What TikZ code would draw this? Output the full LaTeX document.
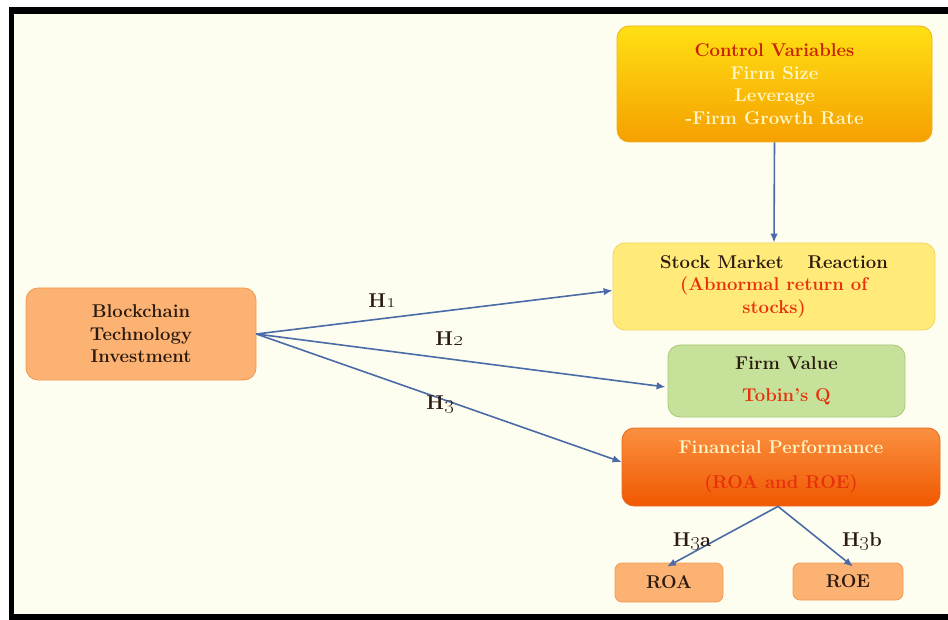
\documentclass[tikz,border=0pt]{standalone}
\usetikzlibrary{arrows.meta}
\definecolor{cream}{HTML}{FEFEF0}
\definecolor{arrowblue}{HTML}{4A6BA8}
\definecolor{cvtop}{HTML}{FFE014}
\definecolor{cvbot}{HTML}{F5A000}
\definecolor{cvdraw}{HTML}{F0B020}
\definecolor{cvred}{HTML}{C82000}
\definecolor{lighttext}{HTML}{FFF6C8}
\definecolor{smfill}{HTML}{FFEA7A}
\definecolor{smdraw}{HTML}{F2D45A}
\definecolor{fvfill}{HTML}{C6E29A}
\definecolor{fvdraw}{HTML}{A8C878}
\definecolor{fptop}{HTML}{FA9040}
\definecolor{fpbot}{HTML}{F05800}
\definecolor{fpdraw}{HTML}{E86A20}
\definecolor{orfill}{HTML}{FBB273}
\definecolor{ordraw}{HTML}{F29A55}
\definecolor{redtext}{HTML}{E8300C}
\definecolor{darktext}{HTML}{2A1A10}
\begin{document}
\begin{tikzpicture}[x=1pt,y=-1pt,
  box/.style={rounded corners=12pt, align=center, inner sep=0pt, line width=0.8pt,
    font=\fontsize{18.5}{22.5}\selectfont\bfseries, text=darktext},
  arr/.style={draw=arrowblue, line width=1.6pt, -{Latex[length=9pt,width=7.5pt]}},
  hlab/.style={font=\fontsize{20}{22}\selectfont\bfseries, text=darktext, inner sep=0pt}]
\useasboundingbox (0,0) rectangle (948,620);
\fill[white] (0,0) rectangle (948,620);
\fill[black] (9,7) rectangle (948,620);
\fill[cream] (14,14) rectangle (948,614);

\node[box, minimum width=315pt, minimum height=116pt, top color=cvtop, bottom color=cvbot,
  draw=cvdraw, text=lighttext] (cv) at (774.5,84)
  {{\color{cvred}Control Variables}\\Firm Size\\Leverage\\-Firm Growth Rate};

\node[box, minimum width=322pt, minimum height=87pt, fill=smfill, draw=smdraw] (sm) at (774,286.5)
  {Stock Market\hspace{1.3em}Reaction\\{\color{redtext}(Abnormal return of}\\{\color{redtext}stocks)}};

\node[box, minimum width=237pt, minimum height=72pt, fill=fvfill, draw=fvdraw] (fv) at (786.5,381)
  {Firm Value\\[10pt]{\color{redtext}Tobin’s Q}};

\node[box, minimum width=318pt, minimum height=78pt, top color=fptop, bottom color=fpbot,
  draw=fpdraw, text=lighttext] (fp) at (781,467)
  {Financial Performance\\[13pt]{\color{redtext}(ROA and ROE)}};

\node[box, minimum width=230pt, minimum height=92pt, fill=orfill, draw=ordraw] (bc) at (141,334)
  {Blockchain\\Technology\\Investment};

\node[box, minimum width=108pt, minimum height=39pt, fill=orfill, draw=ordraw, rounded corners=7pt] (roa) at (669,582.5) {ROA};
\node[box, minimum width=110pt, minimum height=37pt, fill=orfill, draw=ordraw, rounded corners=7pt] (roe) at (848,581.5) {ROE};

\draw[arr] (cv.south) -- (sm.north);
\draw[arr] (bc.east) -- ([yshift=-4pt]sm.west);
\draw[arr] (bc.east) -- ([xshift=-2pt,yshift=-6pt]fv.west);
\draw[arr] (bc.east) -- ([yshift=5pt]fp.west);
\draw[arr] ([xshift=-3pt]fp.south) -- ([xshift=-2pt,yshift=-4pt]roa.north);
\draw[arr] ([xshift=-3pt]fp.south) -- ([xshift=5pt,yshift=-4pt]roe.north);

\node[hlab] (h1) at (382,301) {H\oldstylenums{1}};
\node[hlab] (h2) at (449,339) {H\oldstylenums{2}};
\node[hlab] (h3) at (440,405) {H\oldstylenums{3}};
\node[hlab] (h3a) at (692,542) {H\oldstylenums{3}a};
\node[hlab] (h3b) at (862,542) {H\oldstylenums{3}b};
\end{tikzpicture}
\end{document}
